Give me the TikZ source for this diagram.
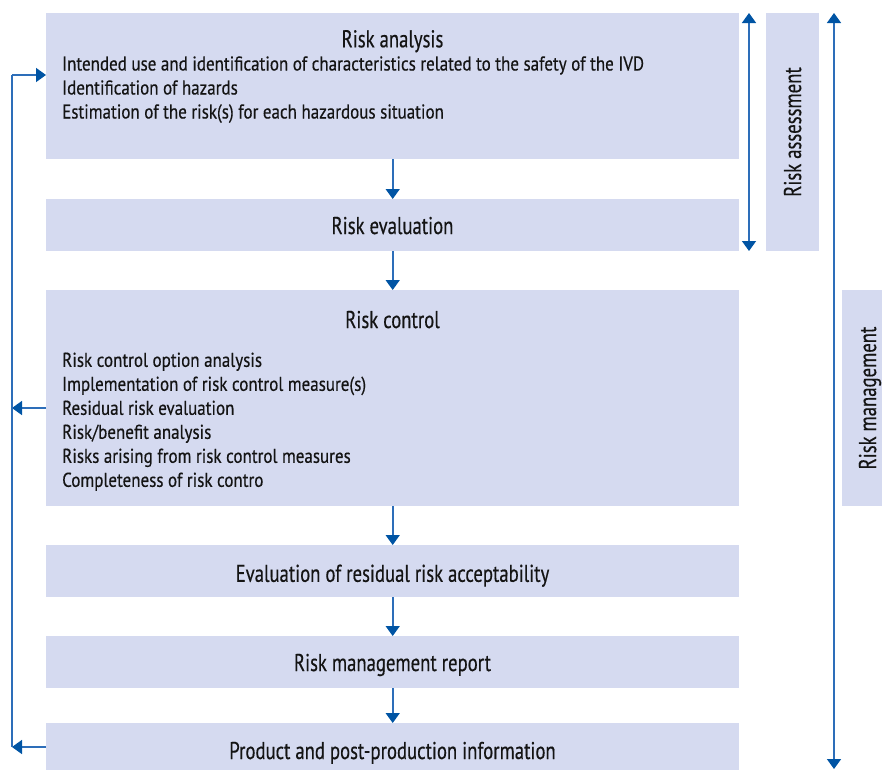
\documentclass[tikz,border=0pt]{standalone}
\usepackage{fontspec}
\setmainfont[FakeStretch=0.85,FakeBold=0.4]{PT Sans}
\newfontfamily\titlefont[FakeStretch=0.77,FakeBold=0.4]{PT Sans}
\usetikzlibrary{arrows.meta}
\definecolor{boxfill}{RGB}{213,218,240}
\definecolor{linecol}{RGB}{45,110,185}
\definecolor{headcol}{RGB}{0,84,164}
\definecolor{txt}{RGB}{20,20,20}
\tikzset{
  box/.style={fill=boxfill, draw=none, anchor=north west, inner sep=0pt},
  ttl/.style={font=\titlefont\fontsize{24.3}{28}\selectfont, inner sep=0pt, anchor=base, text=txt},
  body/.style={font=\fontsize{20}{24}\selectfont, anchor=base west, inner sep=0pt, text=txt},
  conn/.style={draw=linecol, line width=1.6pt, -{Triangle[length=10pt,width=14pt,color=headcol]}},
  dconn/.style={draw=linecol, line width=1.6pt, {Triangle[length=10pt,width=14pt,color=headcol]}-{Triangle[length=10pt,width=14pt,color=headcol]}},
  plain/.style={draw=linecol, line width=1.6pt}
}
\begin{document}
\begin{tikzpicture}[x=1pt,y=-1pt]
\useasboundingbox (0,0) rectangle (882,769);
% boxes
\node[box, minimum width=693pt, minimum height=146pt] (b1) at (46,13) {};
\node[box, minimum width=693pt, minimum height=52pt] (b2) at (46,199) {};
\node[box, minimum width=693pt, minimum height=216pt] (b3) at (46,290) {};
\node[box, minimum width=693pt, minimum height=52pt] (b4) at (46,545) {};
\node[box, minimum width=693pt, minimum height=52pt] (b5) at (46,636) {};
\node[box, minimum width=693pt, minimum height=52pt] (b6) at (46,723) {};
\node[box, minimum width=53pt, minimum height=238pt] (ra) at (766,13) {};
\node[box, minimum width=40pt, minimum height=216pt] (rm) at (842,290) {};
% texts
\node[ttl] (t1) at (392.5,47.3) {Risk analysis};
\node[body] (l1a) at (62,70.5) {Intended use and identification of characteristics related to the safety of the IVD};
\node[body] (l1b) at (62,94.5) {Identification of hazards};
\node[body] (l1c) at (62,118.5) {Estimation of the risk(s) for each hazardous situation};
\node[ttl] (t2) at (392.5,234) {Risk evaluation};
\node[ttl] (t3) at (392.5,328) {Risk control};
\node[body] (l3a) at (62,366.8) {Risk control option analysis};
\node[body] (l3b) at (62,390.8) {Implementation of risk control measure(s)};
\node[body] (l3c) at (62,414.8) {Residual risk evaluation};
\node[body] (l3d) at (62,438.8) {Risk/benefit analysis};
\node[body] (l3e) at (62,462.8) {Risks arising from risk control measures};
\node[body] (l3f) at (62,486.8) {Completeness of risk contro};
\node[ttl] (t4) at (392.5,581.8) {Evaluation of residual risk acceptability};
\node[ttl] (t5) at (392.5,671) {Risk management report};
\node[ttl] (t6) at (392.5,759) {Product and post-production information};
\node[ttl, rotate=90] (tra) at (801,132) {Risk assessment};
\node[ttl, rotate=90] (trm) at (876,398) {Risk management};
% vertical flow arrows
\draw[conn] (b1.south) -- (b2.north);
\draw[conn] (b2.south) -- (b3.north);
\draw[conn] (b3.south) -- (b4.north);
\draw[conn] (b4.south) -- (b5.north);
\draw[conn] (b5.south) -- (b6.north);
% right side arrows
\coordinate (a1) at (749,13);
\coordinate (a2) at (749,251);
\draw[dconn] (a1) -- (a2);
\coordinate (m1) at (834,13);
\coordinate (m2) at (834,769);
\draw[dconn] (m1) -- (m2);
% feedback loop on the left
\coordinate (fb6) at (12,747);
\coordinate (fb3) at (12,408);
\coordinate (fb1) at (12,75);
\draw[conn] (b6.west |- fb6) -- (fb6);
\draw[conn] (b3.west |- fb3) -- (fb3);
\draw[plain] (fb6) -- (fb1);
\draw[conn] (fb1) -- (b1.west |- fb1);
\end{tikzpicture}
\end{document}
